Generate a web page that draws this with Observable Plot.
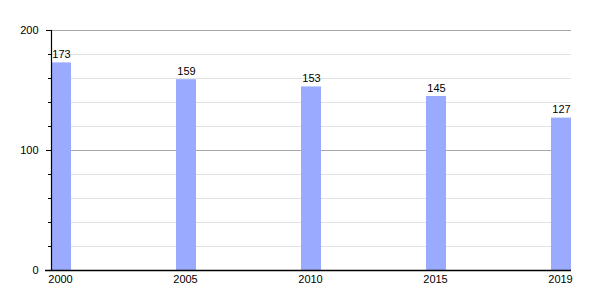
<!DOCTYPE html>
<html>
<head>
<meta charset="utf-8">
<script src="https://cdn.jsdelivr.net/npm/d3@7"></script>
<script src="https://cdn.jsdelivr.net/npm/@observablehq/plot@0.6"></script>
<style>
  html, body { margin: 0; padding: 0; background: #fff; }
  #chart { width: 600px; height: 300px; }
</style>
</head>
<body>
<div id="chart"></div>
<script>
const years = ["2000", "2005", "2010", "2015", "2019"];
const values = [173, 159, 153, 145, 127];
const majorTicks = [0, 100, 200];
const minorTicks = [0, 20, 40, 60, 80, 100, 120, 140, 160, 180, 200];
const lightGrid = [20, 40, 60, 80, 120, 140, 160, 180];
const darkGrid = [100, 200];

const data = years.map((y, i) => ({year: y, value: values[i]}));
const font = "'Liberation Sans', Arial, sans-serif";

const chart = Plot.plot({
  width: 600,
  height: 300,
  marginLeft: 51,
  marginRight: 29,
  marginTop: 30,
  marginBottom: 30,
  style: {fontFamily: font, fontSize: "11px", background: "#fff", color: "#000"},
  x: {type: "band", domain: years, paddingInner: 0.84, paddingOuter: 0, label: null},
  y: {domain: [0, 200], label: null},
  marks: [
    Plot.ruleY(lightGrid, {stroke: "#e2e2e2", strokeWidth: 1}),
    Plot.ruleY(darkGrid, {stroke: "#a8a8a8", strokeWidth: 1}),
    Plot.barY(data, {x: "year", y: "value", fill: "#99aaff"}),
    Plot.text(data, {x: "year", y: "value", text: d => String(d.value), lineAnchor: "bottom", dy: -5, fontSize: 11, fill: "#000"}),
    Plot.axisY({ticks: minorTicks, tickSize: 3, tickFormat: () => "", stroke: "#000"}),
    Plot.axisY({ticks: majorTicks, tickSize: 5, tickPadding: 8, fontSize: 11, stroke: "#000", fill: "#000"}),
    Plot.axisX({tickSize: 0, tickPadding: 5, fontSize: 11, fill: "#000", dx: -1}),
    Plot.frame({anchor: "left", stroke: "#000", strokeWidth: 1.2}),
    Plot.ruleY([0], {stroke: "#000", strokeWidth: 1.5, insetLeft: -6})
  ]
});
document.getElementById("chart").appendChild(chart);
</script>
</body>
</html>
